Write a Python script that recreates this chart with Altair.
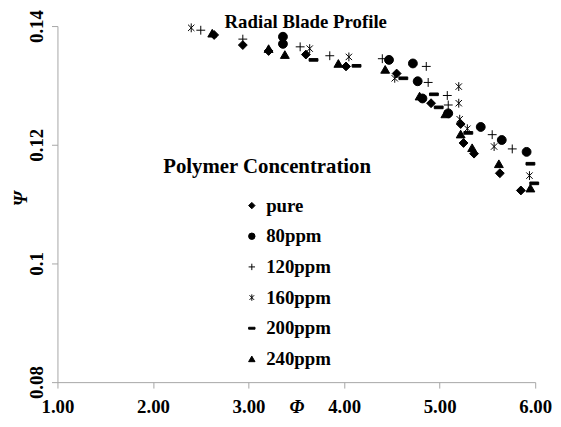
import altair as alt
import pandas as pd

series_names = ["pure", "80ppm", "120ppm", "160ppm", "200ppm", "240ppm"]

pure_phi = [2.64, 2.94, 3.21, 3.60, 4.02, 4.55, 4.91, 5.22, 5.25, 5.36, 5.63, 5.85]
pure_psi = [0.1385, 0.1368, 0.1358, 0.1352, 0.1332, 0.1320, 0.1270, 0.1235, 0.1203, 0.1185, 0.1152, 0.1123]

p80_phi = [3.36, 3.36, 4.47, 4.72, 4.77, 4.82, 5.09, 5.43, 5.65, 5.91]
p80_psi = [0.1382, 0.1370, 0.1343, 0.1337, 0.1307, 0.1278, 0.1253, 0.1230, 0.1208, 0.1188]

p120_phi = [2.50, 2.94, 3.54, 3.85, 4.40, 4.86, 4.88, 5.08, 5.09, 5.55, 5.76]
p120_psi = [0.1393, 0.1378, 0.1365, 0.1350, 0.1345, 0.1332, 0.1305, 0.1283, 0.1267, 0.1217, 0.1193]

p160_phi = [2.40, 3.64, 4.05, 4.53, 5.20, 5.20, 5.21, 5.29, 5.57, 5.94]
p160_psi = [0.1397, 0.1362, 0.1348, 0.1312, 0.1298, 0.1270, 0.1243, 0.1227, 0.1197, 0.1148]

p200_phi = [3.68, 4.13, 4.62, 4.94, 4.99, 5.30, 5.95, 5.99]
p200_psi = [0.1343, 0.1333, 0.1312, 0.1285, 0.1263, 0.1220, 0.1168, 0.1135]

p240_phi = [2.62, 3.21, 3.38, 3.94, 4.43, 4.79, 5.06, 5.22, 5.34, 5.62, 5.95]
p240_psi = [0.1388, 0.1362, 0.1352, 0.1337, 0.1327, 0.1282, 0.1252, 0.1218, 0.1195, 0.1168, 0.1127]

x_ticks = [1, 2, 3, 4, 5, 6]
y_ticks = [0.08, 0.1, 0.12, 0.14]

chart_title = "Radial Blade Profile"
legend_title = "Polymer Concentration"

rows = []
for name, xs, ys in [
    ("pure", pure_phi, pure_psi),
    ("80ppm", p80_phi, p80_psi),
    ("120ppm", p120_phi, p120_psi),
    ("160ppm", p160_phi, p160_psi),
    ("200ppm", p200_phi, p200_psi),
    ("240ppm", p240_phi, p240_psi),
]:
    for a, b in zip(xs, ys):
        rows.append({"phi": a, "psi": b, "series": name})
df = pd.DataFrame(rows)

FONT = "Liberation Serif"

shape_range = [
    "diamond",
    "circle",
    "M-1,0H1M0,-1V1",
    "M-0.72,-0.72L0.72,0.72M-0.72,0.72L0.72,-0.72M0,-1V1",
    "M-1,-0.3H1V0.3H-1Z",
    "triangle-up",
]
fill_range = ["black", "black", "transparent", "transparent", "black", "black"]
stroke_range = ["black"] * 6

legend = alt.Legend(
    title=None,
    orient="none",
    legendX=187,
    legendY=172,
    padding=0,
    symbolSize=42,
    symbolStrokeWidth=1,
    labelFont=FONT,
    labelFontSize=19,
    labelFontWeight="bold",
    labelColor="black",
    labelOffset=5,
    rowPadding=11,
)

points = alt.Chart(df).mark_point(
    size=80, strokeWidth=1, opacity=1, fillOpacity=1
).encode(
    x=alt.X(
        "phi:Q",
        scale=alt.Scale(domain=[1, 6], nice=False, zero=False),
        axis=alt.Axis(
            values=x_ticks,
            format=".2f",
            title="Φ",
            titleY=31,
            titleBaseline="alphabetic",
            titleFontStyle="italic",
            labelBaseline="alphabetic",
            labelPadding=25,
            labelFlush=False,
        ),
    ),
    y=alt.Y(
        "psi:Q",
        scale=alt.Scale(domain=[0.08, 0.14], nice=False, zero=False),
        axis=alt.Axis(
            values=y_ticks,
            format="~g",
            title="Ψ",
            titleX=-31,
            titleY=174,
            titleAngle=270,
            titleBaseline="alphabetic",
            titleAlign="center",
            titleFontStyle="italic",
            labelAngle=270,
            labelAlign="center",
            labelBaseline="alphabetic",
            labelPadding=9,
            labelFlush=False,
        ),
    ),
    shape=alt.Shape("series:N", scale=alt.Scale(domain=series_names, range=shape_range), legend=legend),
    fill=alt.Fill("series:N", scale=alt.Scale(domain=series_names, range=fill_range), legend=legend),
    stroke=alt.Stroke("series:N", scale=alt.Scale(domain=series_names, range=stroke_range), legend=legend),
)

title_text = alt.Chart(pd.DataFrame({"t": [chart_title]})).mark_text(
    font=FONT, fontSize=19, fontWeight="bold", align="center", baseline="alphabetic", color="black"
).encode(text="t:N", x=alt.value(251), y=alt.value(2))

legend_title_text = alt.Chart(pd.DataFrame({"t": [legend_title]})).mark_text(
    font=FONT, fontSize=21, fontWeight="bold", align="center", baseline="alphabetic", color="black"
).encode(text="t:N", x=alt.value(212), y=alt.value(149))

chart = alt.layer(points, title_text, legend_title_text).properties(
    width=483,
    height=360,
    autosize=alt.AutoSizeParams(type="none"),
    padding={"left": 50, "top": 16, "right": 18, "bottom": 35},
).configure_view(stroke=None).configure_axis(
    grid=False,
    domainColor="#a6a6a6",
    tickColor="#a6a6a6",
    tickSize=6,
    labelFont=FONT,
    labelFontSize=19,
    labelFontWeight="bold",
    labelColor="black",
    titleFont=FONT,
    titleFontSize=19,
    titleFontWeight="bold",
    titleColor="black",
)

chart.save("out.html", embed_options={"renderer": "svg", "actions": False})
